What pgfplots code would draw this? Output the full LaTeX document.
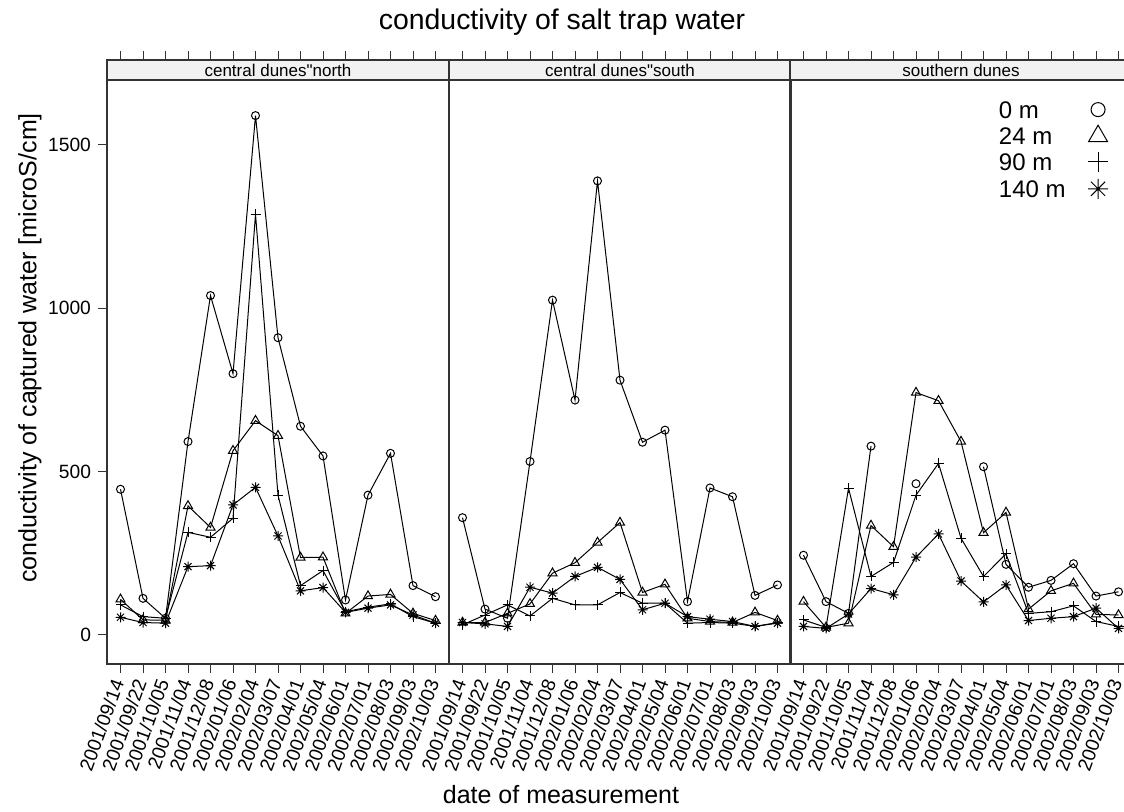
\documentclass[border=0pt]{standalone}
\usepackage{pgfplots}
\pgfplotsset{compat=1.18}
\usepackage{pgfplotstable}
\usepackage{fontspec}
\setmainfont{Liberation Sans}
% no TeX ligatures here, so that " stays a straight quote
\newfontfamily\plainfont{Liberation Sans}

% R's pch 8: a plus and a cross on top of each other
\pgfdeclareplotmark{star8}{%
  \pgfpathmoveto{\pgfqpoint{-\pgfplotmarksize}{0pt}}%
  \pgfpathlineto{\pgfqpoint{\pgfplotmarksize}{0pt}}%
  \pgfpathmoveto{\pgfqpoint{0pt}{-\pgfplotmarksize}}%
  \pgfpathlineto{\pgfqpoint{0pt}{\pgfplotmarksize}}%
  \pgfpathmoveto{\pgfqpoint{-.7071\pgfplotmarksize}{-.7071\pgfplotmarksize}}%
  \pgfpathlineto{\pgfqpoint{.7071\pgfplotmarksize}{.7071\pgfplotmarksize}}%
  \pgfpathmoveto{\pgfqpoint{-.7071\pgfplotmarksize}{.7071\pgfplotmarksize}}%
  \pgfpathlineto{\pgfqpoint{.7071\pgfplotmarksize}{-.7071\pgfplotmarksize}}%
  \pgfusepathqstroke}

% conductivity [microS/cm], index = date of measurement
\pgfplotstableread{
i  m0   m24  m90  m140
0  446  109  92   54
1  112  46   56   38
2  51   45   51   36
3  592  395  314  209
4  1039 329  299  212
5  800  564  357  398
6  1590 656  1288 452
7  910  610  428  303
8  639  237  151  135
9  548  238  197  145
10 107  66   71   69
11 428  119  85   82
12 556  124  95   92
13 151  66   56   61
14 117  44   36   36
}\north
\pgfplotstableread{
i  m0   m24  m90  m140
0  359  38   31   38
1  79   38   61   34
2  51   66   92   26
3  531  95   58   146
4  1025 189  112  128
5  719  221  92   179
6  1390 283  92   207
7  780  344  130  170
8  590  130  97   77
9  627  155  97   97
10 102  51   36   56
11 450  41   38   48
12 423  38   36   41
13 121  69   26   26
14 153  44   38   36
}\south
\pgfplotstableread{
i  m0   m24  m90  m140
0  244  102  46   26
1  102  23   23   20
2  66   36   449  64
3  578  335  179  142
4  nan  270  222  123
5  463  742  428  238
6  nan  717  525  309
7  nan  592  296  165
8  515  313  179  101
9  216  375  248  153
10 146  79   66   44
11 167  135  71   51
12 218  158  89   56
13 119  63   41   82
14 132  61   26   20
}\southern

\pgfplotsset{
  panel/.style={
    anchor=south west, scale only axis, width=171pt, height=292pt,
    xmin=-0.6, xmax=14.6, ymin=-89, ymax=1699,
    axis line style={black!80, line width=0.7pt},
    tick style={black!80, line width=0.5pt},
    tick align=outside, major tick length=4.5pt,
    xtick={0,...,14}, xtick pos=lower,
    xticklabels={2001/09/14,2001/09/22,2001/10/05,2001/11/04,2001/12/08,2002/01/06,2002/02/04,2002/03/07,2002/04/01,2002/05/04,2002/06/01,2002/07/01,2002/08/03,2002/09/03,2002/10/03},
    x tick label style={rotate=70, anchor=east, font=\fontsize{9.6}{10}\selectfont},
    y tick label style={font=\fontsize{9.6}{10}\selectfont},
    ytick={0,500,1000,1500},
    /pgf/number format/1000 sep={},
    /pgf/number format/assume math mode=true,
    unbounded coords=jump,
    every axis plot/.append style={black, line width=0.5pt},
    legend image code/.code={\draw[##1] plot coordinates {(0pt,0pt)};},
  },
  strip/.style={
    anchor=south west, scale only axis, width=171pt, height=10pt,
    xmin=-0.6, xmax=14.6, ymin=0, ymax=1,
    axis line style={black!80, line width=0.7pt},
    tick style={black!80, line width=0.5pt},
    tick align=outside, major tick length=4.5pt,
    xtick={0,...,14}, xtick pos=upper, xticklabels={}, ytick=\empty,
    axis background/.style={fill=black!5},
  },
  s0/.style={mark=o, mark size=2pt},
  s24/.style={mark=triangle, mark size=2.6pt},
  s90/.style={mark=+, mark size=2.5pt},
  s140/.style={mark=star8, mark size=2.5pt},
}

\begin{document}
\begin{tikzpicture}
\begin{axis}[panel, at={(53.5pt,74pt)}, ytick pos=left]
  \addplot[s0] table[x=i, y=m0] {\north};
  \addplot[s24] table[x=i, y=m24] {\north};
  \addplot[s90] table[x=i, y=m90] {\north};
  \addplot[s140] table[x=i, y=m140] {\north};
\end{axis}
\begin{axis}[panel, at={(224.5pt,74pt)}, ymajorticks=false]
  \addplot[s0] table[x=i, y=m0] {\south};
  \addplot[s24] table[x=i, y=m24] {\south};
  \addplot[s90] table[x=i, y=m90] {\south};
  \addplot[s140] table[x=i, y=m140] {\south};
\end{axis}
\begin{axis}[panel, at={(395pt,74pt)}, ytick pos=right, yticklabels={},
  legend plot pos=right,
  legend style={at={(0.611,0.964)}, anchor=north west, draw=none, fill=none,
    inner sep=0pt, outer sep=0pt, row sep=3.5pt, column sep=11.2pt,
    font=\fontsize{12}{14}\selectfont,
    nodes={inner sep=0pt, text height=8.6pt, text depth=0pt}},
  legend cell align=left]
  \addplot[s0, forget plot] table[x=i, y=m0] {\southern};
  \addplot[s24, forget plot] table[x=i, y=m24] {\southern};
  \addplot[s90, forget plot] table[x=i, y=m90] {\southern};
  \addplot[s140, forget plot] table[x=i, y=m140] {\southern};
  \addlegendimage{only marks, black, line width=0.5pt, mark=o, mark size=3.5pt}
  \addlegendentry{0 m}
  \addlegendimage{only marks, black, line width=0.5pt, mark=triangle, mark size=5.5pt}
  \addlegendentry{24 m}
  \addlegendimage{only marks, black, line width=0.5pt, mark=+, mark size=5pt}
  \addlegendentry{90 m}
  \addlegendimage{only marks, black, line width=0.5pt, mark=star8, mark size=5pt}
  \addlegendentry{140 m}
\end{axis}
\begin{axis}[strip, at={(53.5pt,366pt)}]
  \node[font=\plainfont\fontsize{8.5}{10}\selectfont] at (rel axis cs:0.5,0.5) {central dunes"north};
\end{axis}
\begin{axis}[strip, at={(224.5pt,366pt)}]
  \node[font=\plainfont\fontsize{8.5}{10}\selectfont] at (rel axis cs:0.5,0.5) {central dunes"south};
\end{axis}
\begin{axis}[strip, at={(395pt,366pt)}]
  \node[font=\plainfont\fontsize{8.5}{10}\selectfont] at (rel axis cs:0.5,0.5) {southern dunes};
\end{axis}
\node[font=\fontsize{14.2}{16}\selectfont] at (281pt,395pt) {conductivity of salt trap water};
\node[font=\fontsize{12.5}{14}\selectfont, rotate=90] at (15pt,232pt) {conductivity of captured water [microS/cm]};
\node[font=\fontsize{12.5}{14}\selectfont] at (280.5pt,8.5pt) {date of measurement};
\pgfresetboundingbox
\useasboundingbox (0pt,0pt) rectangle (562pt,406pt);
\end{tikzpicture}
\end{document}
